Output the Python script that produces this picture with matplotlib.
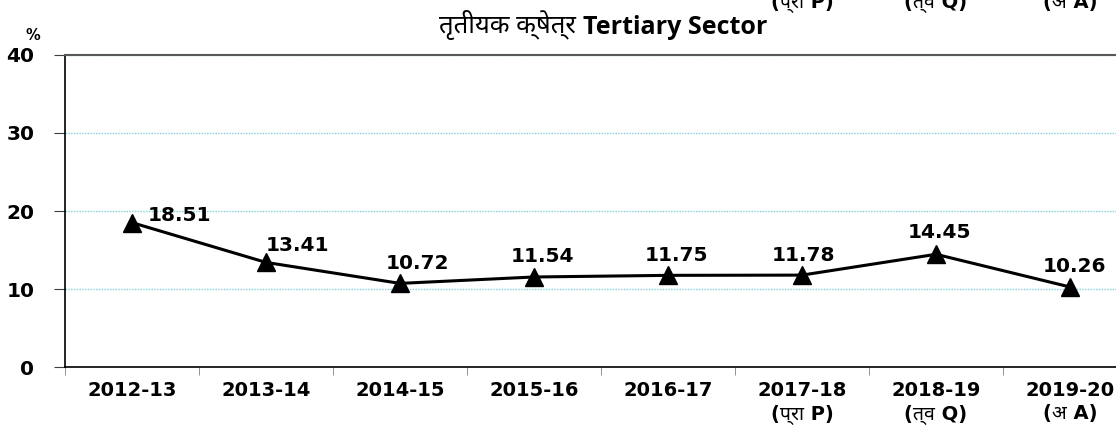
import numpy as np
import matplotlib
matplotlib.use("Agg")
import matplotlib.pyplot as plt
import matplotlib.transforms as mtransforms

years = ["2012-13", "2013-14", "2014-15", "2015-16", "2016-17",
         "2017-18\n(प्रा P)", "2018-19\n(त्व Q)", "2019-20\n(अ A)"]
growth = [18.51, 13.41, 10.72, 11.54, 11.75, 11.78, 14.45, 10.26]
# bits of the chart above that show at the top edge
top_bits = ["(प्रा P)", "(त्व Q)", "(अ A)"]
top_pos = [5, 6, 7]

deva = "Noto Sans Devanagari"
fam = ["DejaVu Sans", deva]

fig = plt.figure(figsize=(11.16, 4.4), dpi=100)
ax = fig.add_axes([65 / 1116, 1 - 367 / 440, (1137 - 65) / 1116, (367 - 55) / 440])

x = np.arange(len(growth))
ax.plot(x, growth, color="black", lw=2.2, marker="^", ms=13, clip_on=False, zorder=3)

# label offsets in pixels (dx, dy up)
offs = [(47, 7), (31, 17), (17, 20), (8, 20), (8, 20), (1, 20), (3, 22), (4, 20)]
for i, v in enumerate(growth):
    ax.annotate(f"{v:.2f}", (i, v), xytext=(offs[i][0] * 0.72, offs[i][1] * 0.72),
                textcoords="offset points", ha="center", va="center",
                fontsize=14.5, fontweight="bold", family=fam)

ax.set_xlim(-0.5, 7.5)
ax.set_ylim(0, 40)
ax.set_yticks([0, 10, 20, 30, 40])
ax.set_yticklabels(["0", "10", "20", "30", "40"], fontsize=14.5, fontweight="bold", family=fam)
ax.set_xticks(x)
ax.set_xticklabels(years, fontsize=14, fontweight="bold", family=fam, linespacing=1.25)
ax.set_xticks(np.arange(-0.5, 8, 1), minor=True)
ax.tick_params(axis="x", which="major", length=0, pad=10)
ax.tick_params(axis="x", which="minor", length=6, color="#808080")
ax.tick_params(axis="y", length=8, pad=14, color="#404040")

ax.set_axisbelow(True)
ax.yaxis.grid(True, color="#7fd0dc", linestyle=(0, (1, 1)), lw=1.0)
ax.spines["right"].set_visible(False)
ax.spines["top"].set_color("#595959")
ax.spines["top"].set_linewidth(1.5)
ax.spines["left"].set_linewidth(1.2)
ax.spines["bottom"].set_linewidth(1.2)

fig.text(33 / 1116, 1 - 36 / 440, "%", ha="center", va="center", fontsize=10.5, fontweight="bold")
fig.text(576 / 1116, 1 - 25 / 440, "तृतीयक क्षेत्र", ha="right", va="center",
         fontsize=18.5, family=[deva, "DejaVu Sans"])
fig.text(583 / 1116, 1 - 27 / 440, "Tertiary Sector", ha="left", va="center",
         fontsize=18, fontweight="bold", family="Open Sans")

tr = mtransforms.blended_transform_factory(ax.transData, fig.transFigure)
for p, t in zip(top_pos, top_bits):
    fig.text(p, 1 - 12 / 440, t, transform=tr, ha="center", va="bottom",
             fontsize=14, fontweight="bold", family=fam)

fig.savefig("out.png", dpi=100)
